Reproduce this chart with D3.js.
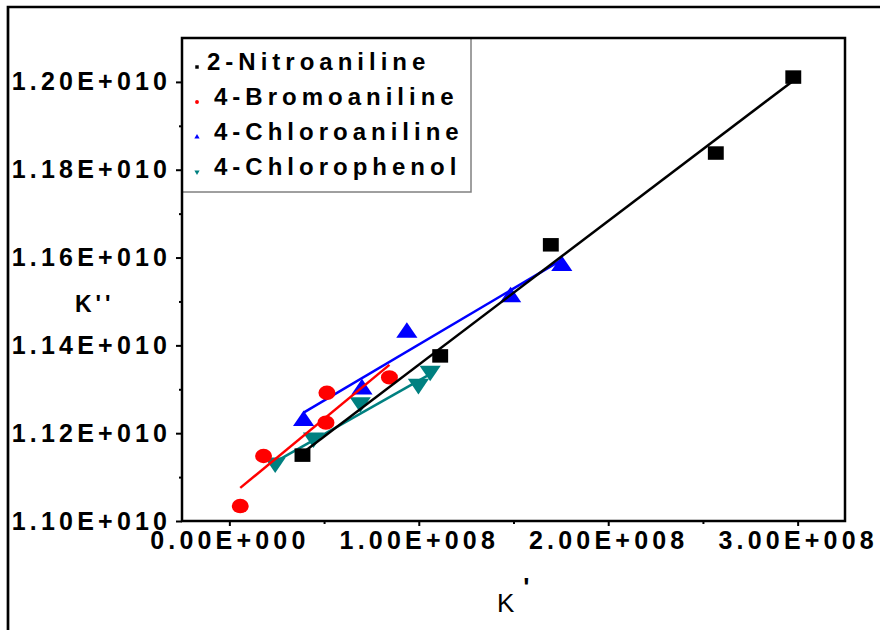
<!DOCTYPE html>
<html>
<head>
<meta charset="utf-8">
<script src="https://cdn.jsdelivr.net/npm/d3@7"></script>
<style>
html, body { margin: 0; padding: 0; background: #fff; }
svg { display: block; font-family: Arial, "Liberation Sans", sans-serif; }
</style>
</head>
<body>
<div id="chart"></div>
<script>
// series
const seriesNames = ["2-Nitroaniline", "4-Bromoaniline", "4-Chloroaniline", "4-Chlorophenol"];
const seriesColors = ["#000000", "#ff0000", "#0000ff", "#008080"];

// K' (x) and K'' (y)
const nitroX = [0.386e8, 1.113e8, 1.697e8, 2.568e8, 2.977e8];
const nitroY = [1.1150e10, 1.1376e10, 1.1629e10, 1.1838e10, 1.2011e10];
const bromoX = [0.0575e8, 0.1805e8, 0.510e8, 0.515e8, 0.845e8];
const bromoY = [1.1034e10, 1.1148e10, 1.1224e10, 1.1292e10, 1.1327e10];
const chloroX = [0.392e8, 0.700e8, 0.937e8, 1.485e8, 1.755e8];
const chloroY = [1.1234e10, 1.1306e10, 1.1435e10, 1.1516e10, 1.1587e10];
const phenolX = [0.242e8, 0.444e8, 0.691e8, 0.998e8, 1.060e8];
const phenolY = [1.1127e10, 1.1184e10, 1.1264e10, 1.1306e10, 1.1336e10];

// ticks
const xTicks = [0, 1e8, 2e8, 3e8];
const xTickLabels = ["0.00E+000", "1.00E+008", "2.00E+008", "3.00E+008"];
const xMinorTicks = [0.5e8, 1.5e8, 2.5e8];
const yTicks = [1.10e10, 1.12e10, 1.14e10, 1.16e10, 1.18e10, 1.20e10];
const yTickLabels = ["1.10E+010", "1.12E+010", "1.14E+010", "1.16E+010", "1.18E+010", "1.20E+010"];
const yMinorTicks = [1.11e10, 1.13e10, 1.15e10, 1.17e10, 1.19e10];

const W = 880, H = 630;
const margin = {top: 38, right: 35, bottom: 109, left: 182};
const width = W - margin.left - margin.right;
const height = H - margin.top - margin.bottom;

const svg = d3.select("#chart").append("svg")
    .attr("width", W)
    .attr("height", H);

// outer picture border (top and left only)
svg.append("path")
    .attr("d", `M8,${H} L8,7 L${W},7`)
    .attr("fill", "none")
    .attr("stroke", "#000")
    .attr("stroke-width", 2.7);

const g = svg.append("g")
    .attr("transform", `translate(${margin.left},${margin.top})`);

const x = d3.scaleLinear().domain([-0.25e8, 3.25e8]).range([0, width]);
const y = d3.scaleLinear().domain([1.10e10, 1.21e10]).range([height, 0]);

// legend box goes under everything
const legend = g.append("g");
legend.append("rect")
    .attr("x", 0)
    .attr("y", 0)
    .attr("width", 289)
    .attr("height", 154)
    .attr("fill", "#fff")
    .attr("stroke", "#808080")
    .attr("stroke-width", 1.5);

// axes
const tickFont = g => g.selectAll("text")
    .attr("font-size", 25)
    .attr("font-weight", "bold")
    .attr("letter-spacing", 4.2)
    .attr("fill", "#000");

g.append("g")
    .attr("transform", `translate(0,${height})`)
    .call(d3.axisBottom(x).tickValues(xMinorTicks).tickSize(3).tickFormat(""))
    .call(a => a.select(".domain").remove())
    .call(a => a.selectAll("line").attr("stroke-width", 2));

g.append("g")
    .attr("transform", `translate(0,${height})`)
    .call(d3.axisBottom(x).tickValues(xTicks).tickSize(5).tickPadding(5)
        .tickFormat((d, i) => xTickLabels[i]))
    .call(a => a.select(".domain").remove())
    .call(a => a.selectAll("line").attr("stroke-width", 2))
    .call(tickFont);

g.append("g")
    .call(d3.axisLeft(y).tickValues(yMinorTicks).tickSize(3).tickFormat(""))
    .call(a => a.select(".domain").remove())
    .call(a => a.selectAll("line").attr("stroke-width", 2));

g.append("g")
    .call(d3.axisLeft(y).tickValues(yTicks).tickSize(6).tickPadding(9)
        .tickFormat((d, i) => yTickLabels[i]))
    .call(a => a.select(".domain").remove())
    .call(a => a.selectAll("line").attr("stroke-width", 2))
    .call(tickFont)
    .call(a => a.selectAll("text").attr("dx", 4.2));

// plot frame
g.append("rect")
    .attr("width", width)
    .attr("height", height)
    .attr("fill", "none")
    .attr("stroke", "#000")
    .attr("stroke-width", 2.5);

// axis titles
svg.append("text")
    .attr("x", 75)
    .attr("y", 312)
    .attr("font-size", 23)
    .attr("font-weight", "bold")
    .attr("letter-spacing", 4)
    .text("K''");

const xTitle = svg.append("text")
    .attr("x", 497)
    .attr("y", 612)
    .attr("font-size", 26)
    .text("K");
xTitle.append("tspan")
    .attr("dx", 9)
    .attr("dy", -16)
    .attr("font-weight", "bold")
    .text("'");

// linear fit through each series
function linFit(xs, ys) {
    const mx = d3.mean(xs), my = d3.mean(ys);
    const sxy = d3.sum(xs, (v, i) => (v - mx) * (ys[i] - my));
    const sxx = d3.sum(xs, v => (v - mx) * (v - mx));
    const slope = sxy / sxx;
    const x0 = d3.min(xs), x1 = d3.max(xs);
    return [[x0, my + slope * (x0 - mx)], [x1, my + slope * (x1 - mx)]];
}

const series = [
    {xs: nitroX, ys: nitroY, type: d3.symbolSquare, size: 225, flip: false},
    {xs: bromoX, ys: bromoY, type: d3.symbolCircle, size: 201, flip: false},
    {xs: chloroX, ys: chloroY, type: d3.symbolTriangle, size: 173, flip: false},
    {xs: phenolX, ys: phenolY, type: d3.symbolTriangle, size: 173, flip: true}
];
series.forEach((s, i) => { s.name = seriesNames[i]; s.color = seriesColors[i]; });

const line = d3.line().x(d => x(d[0])).y(d => y(d[1]));

function symbolTransform(s, px, py, k) {
    let t = `translate(${px},${py})`;
    if (s.type === d3.symbolTriangle) {
        const half = Math.sqrt(s.size / (Math.sqrt(3) * 3)) / 2 * k;
        t += s.flip ? ` translate(0,${-half}) rotate(180)` : ` translate(0,${half})`;
    }
    return t;
}

// draw order: chlorophenol, chloroaniline, bromoaniline, nitroaniline
[3, 2, 1, 0].forEach(i => {
    const s = series[i];
    const pts = s.xs.map((v, j) => [v, s.ys[j]]);
    const sg = g.append("g");
    sg.selectAll("path.pt")
        .data(pts)
        .join("path")
        .attr("class", "pt")
        .attr("d", d3.symbol().type(s.type).size(s.size))
        .attr("fill", s.color)
        .attr("transform", d => symbolTransform(s, x(d[0]), y(d[1]), 0.9) + " scale(1.06,0.9)");
    sg.append("path")
        .datum(linFit(s.xs, s.ys))
        .attr("fill", "none")
        .attr("stroke", s.color)
        .attr("stroke-width", 2.5)
        .attr("d", line);
});

// legend entries
series.forEach((s, i) => {
    const base = 32 + i * 35;
    legend.append("path")
        .attr("d", d3.symbol().type(s.type).size(12))
        .attr("fill", s.color)
        .attr("transform", `translate(15,${base - 3})` + (s.flip ? " rotate(180)" : ""));
    legend.append("text")
        .attr("x", i === 0 ? 25 : 32)
        .attr("y", base)
        .attr("font-size", 24)
        .attr("font-weight", "bold")
        .attr("letter-spacing", 5)
        .text(s.name);
});
</script>
</body>
</html>
